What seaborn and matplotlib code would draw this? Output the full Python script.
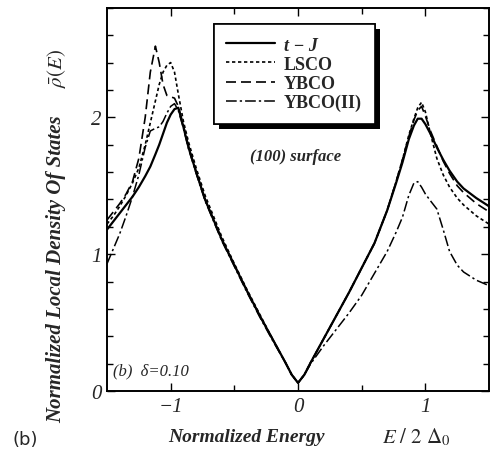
import matplotlib
matplotlib.use("Agg")
import matplotlib.pyplot as plt
import matplotlib.patheffects as pe
from matplotlib.ticker import MultipleLocator, FixedLocator
import seaborn as sns
import pandas as pd

# ---- data ----
energy = [-1.5, -1.45, -1.4, -1.35, -1.3, -1.25, -1.2, -1.16, -1.12, -1.09,
          -1.06, -1.03, -1.0, -0.97, -0.94, -0.9, -0.86, -0.8, -0.73, -0.6,
          -0.5, -0.4, -0.3, -0.2, -0.1, -0.05, 0.0, 0.05, 0.1, 0.2,
          0.3, 0.4, 0.5, 0.6, 0.7, 0.77, 0.82, 0.87, 0.91, 0.94,
          0.97, 1.0, 1.04, 1.09, 1.14, 1.19, 1.25, 1.3, 1.4, 1.5]

rho_tJ = [1.18, 1.24, 1.30, 1.36, 1.42, 1.49, 1.57, 1.64, 1.73, 1.80,
          1.88, 1.96, 2.02, 2.06, 2.07, 1.93, 1.78, 1.60, 1.40, 1.11,
          0.92, 0.73, 0.55, 0.38, 0.21, 0.12, 0.06, 0.12, 0.21, 0.38,
          0.55, 0.72, 0.90, 1.08, 1.32, 1.52, 1.67, 1.84, 1.94, 1.99,
          1.99, 1.95, 1.88, 1.78, 1.69, 1.61, 1.53, 1.48, 1.41, 1.35]

rho_LSCO = [1.22, 1.28, 1.35, 1.43, 1.52, 1.63, 1.80, 1.96, 2.12, 2.24,
            2.33, 2.38, 2.40, 2.33, 2.17, 1.97, 1.82, 1.63, 1.43, 1.13,
            0.93, 0.74, 0.56, 0.38, 0.21, 0.12, 0.06, 0.12, 0.21, 0.38,
            0.55, 0.72, 0.90, 1.08, 1.32, 1.53, 1.69, 1.87, 1.99, 2.07,
            2.11, 2.04, 1.88, 1.70, 1.58, 1.49, 1.41, 1.36, 1.28, 1.22]

rho_YBCO = [1.25, 1.31, 1.37, 1.44, 1.53, 1.70, 2.00, 2.33, 2.52, 2.40,
            2.24, 2.16, 2.15, 2.14, 2.08, 1.94, 1.79, 1.60, 1.40, 1.11,
            0.92, 0.73, 0.55, 0.38, 0.21, 0.12, 0.06, 0.12, 0.21, 0.38,
            0.55, 0.72, 0.90, 1.08, 1.32, 1.53, 1.69, 1.86, 1.98, 2.05,
            2.08, 2.01, 1.90, 1.79, 1.68, 1.59, 1.50, 1.45, 1.37, 1.31]

rho_YBCO2 = [0.93, 1.04, 1.15, 1.28, 1.42, 1.58, 1.78, 1.90, 1.92, 1.93,
             1.97, 2.03, 2.08, 2.10, 2.05, 1.92, 1.77, 1.59, 1.39, 1.10,
             0.91, 0.72, 0.54, 0.37, 0.21, 0.12, 0.06, 0.12, 0.20, 0.33,
             0.45, 0.57, 0.70, 0.86, 1.02, 1.16, 1.27, 1.43, 1.52, 1.53,
             1.49, 1.44, 1.39, 1.33, 1.18, 1.02, 0.92, 0.87, 0.81, 0.77]

series_names = ["t \u2212 J", "LSCO", "YBCO", "YBCO(II)"]
series_values = [rho_tJ, rho_LSCO, rho_YBCO, rho_YBCO2]

x_ticks = [-1, 0, 1]
x_ticklabels = ["\u22121", "0", "1"]
y_ticks = [0, 1, 2]
y_ticklabels = ["0", "1", "2"]

# ---- style ----
sns.set_style("ticks")
plt.rcParams["font.family"] = ["Liberation Serif", "DejaVu Serif"]
plt.rcParams["mathtext.fontset"] = "stix"

df = pd.concat([pd.DataFrame({"E": energy, "rho": v, "model": n})
                for n, v in zip(series_names, series_values)], ignore_index=True)

dash_styles = {"t \u2212 J": "", "LSCO": (2, 1.6), "YBCO": (6, 3),
               "YBCO(II)": (7, 2, 1.5, 2)}
widths = {"t \u2212 J": 1.6, "LSCO": 1.2, "YBCO": 1.2, "YBCO(II)": 1.1}

fig = plt.figure(figsize=(4.92, 4.64), dpi=100)
ax = fig.add_axes([0.2175, 0.155, 0.7765, 0.826])

for name in series_names:
    sub = df[df["model"] == name]
    sns.lineplot(data=sub, x="E", y="rho", ax=ax, color="black",
                 linewidth=widths[name], label=name, sort=False)
    line = ax.get_lines()[-1]
    if dash_styles[name]:
        line.set_dashes(dash_styles[name])

ax.set_xlim(-1.5, 1.5)
ax.set_ylim(0, 2.8)
ax.set_xlabel("")
ax.set_ylabel("")

ax.xaxis.set_major_locator(FixedLocator(x_ticks))
ax.xaxis.set_minor_locator(FixedLocator([-0.5, 0.5]))
ax.yaxis.set_major_locator(FixedLocator(y_ticks))
ax.yaxis.set_minor_locator(MultipleLocator(0.2))
ax.set_xticklabels(x_ticklabels)
ax.set_yticklabels(y_ticklabels)
ax.tick_params(which="both", direction="in", top=True, right=True,
               color="black", width=1.0)
ax.tick_params(which="major", length=6, labelsize=15, pad=4)
ax.tick_params(which="minor", length=4)
for lbl in ax.get_xticklabels() + ax.get_yticklabels():
    lbl.set_fontstyle("italic")
for sp in ax.spines.values():
    sp.set_visible(True)
    sp.set_linewidth(1.4)
    sp.set_color("black")

# legend
handles, labels = ax.get_legend_handles_labels()
leg = ax.legend(handles, labels, loc="upper center",
                bbox_to_anchor=(0.49, 0.958), frameon=True, fancybox=False,
                framealpha=1, edgecolor="black", handlelength=2.7,
                handletextpad=0.5, labelspacing=0.12, borderpad=0.7,
                borderaxespad=0.0,
                prop={"family": "Liberation Serif", "weight": "bold", "size": 13})
leg.get_frame().set_linewidth(1.2)
leg.legendPatch.set_path_effects([
    pe.withSimplePatchShadow(offset=(3.5, -3.5), shadow_rgbFace="black", alpha=1),
    pe.Normal()])
leg.get_texts()[0].set_fontstyle("italic")

# annotations
ax.text(-0.02, 1.72, "(100) surface", ha="center", va="center",
        fontsize=12, fontweight="bold", fontstyle="italic")
ax.text(-1.45, 0.15, "(b)  \u03b4=0.10", ha="left", va="center",
        fontsize=12, fontstyle="italic")

# axis labels
fig.text(0.114, 0.42, "Normalized Local Density Of States", rotation=90,
         ha="center", va="center", fontsize=15, fontweight="bold",
         fontstyle="italic")
fig.text(0.114, 0.81, r"$\bar{\rho}(E)$", rotation=90,
         ha="center", va="bottom", fontsize=15)
fig.text(0.50, 0.058, "Normalized Energy", ha="center", va="center",
         fontsize=14, fontweight="bold", fontstyle="italic")
fig.text(0.845, 0.058, r"$E\ /\ 2\ \Delta_0$", ha="center", va="center",
         fontsize=15)
fig.text(0.026, 0.052, "(b)", ha="left", va="center", fontsize=13,
         family="DejaVu Sans")

fig.savefig("out.png", dpi=100)
